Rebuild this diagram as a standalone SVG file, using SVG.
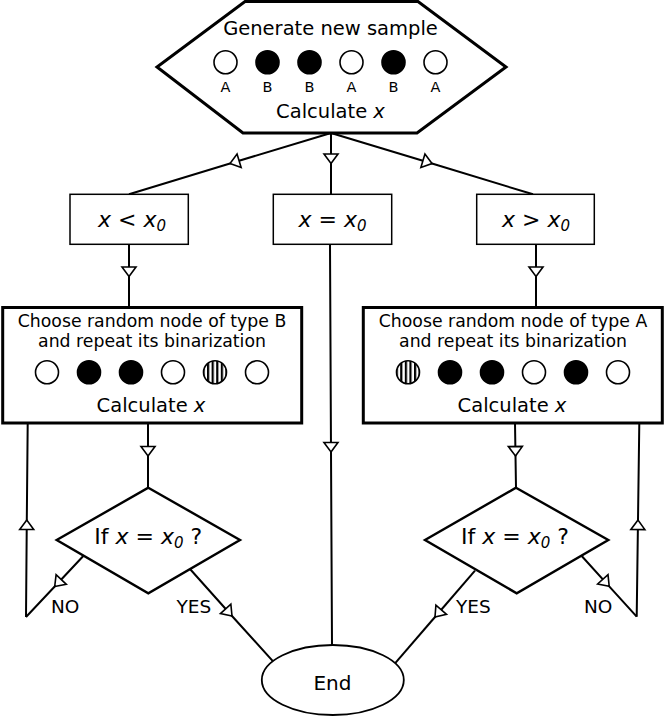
<svg xmlns="http://www.w3.org/2000/svg" width="664" height="718" viewBox="0 0 664 718">
  <style>
    text { font-family: "DejaVu Sans", Verdana, sans-serif; fill: #000; }
    .it { font-style: italic; }
    .conn { fill: none; stroke: #000; stroke-width: 2; marker-mid: url(#arr); }
    .plain { fill: none; stroke: #000; stroke-width: 2; }
    .thick { fill: #fff; stroke: #000; stroke-width: 3; }
    .thin { fill: #fff; stroke: #000; stroke-width: 1.5; }
    .dia { fill: #fff; stroke: #000; stroke-width: 2.4; }
    .w { fill: #fff; stroke: #000; stroke-width: 1.6; }
    .b { fill: #000; stroke: #000; stroke-width: 1.6; }
    .s { fill: url(#stripes); stroke: #000; stroke-width: 1.6; }
  </style>
  <defs>
    <marker id="arr" viewBox="-13 -10 16 20" refX="0" refY="0" markerWidth="16" markerHeight="20" orient="auto" markerUnits="userSpaceOnUse" overflow="visible">
      <path d="M0,0 L-9.5,-7 L-9.5,7 Z" fill="#fff" stroke="#000" stroke-width="1.6" stroke-linejoin="miter"/>
    </marker>
    <pattern id="stripes" patternUnits="userSpaceOnUse" x="0" y="0" width="4.6" height="10">
      <rect x="0" y="0" width="4.6" height="10" fill="#fff"/>
      <rect x="0" y="0" width="2.2" height="10" fill="#000"/>
    </pattern>
  </defs>

  <g id="connectors">
    <path class="conn" d="M331,133 L230,163.5 L129,194.3"/>
    <path class="conn" d="M331,133 L331,163.5 L331,194.3"/>
    <path class="conn" d="M331,133 L432,163.5 L533,194.3"/>
    <path class="conn" d="M129,244.3 L129,276.5 L129,307.5"/>
    <path class="conn" d="M536,244.3 L536,276.5 L536,307.5"/>
    <path class="conn" d="M330,244.3 L331,452 L332,645"/>
    <path class="conn" d="M148,423 L148,456 L148,487.7"/>
    <path class="conn" d="M515,423 L515.5,456 L516,487.7"/>
    <path class="conn" d="M83.3,556 L54.7,586.5 L26,617"/>
    <path class="conn" d="M26,617 L26.8,520 L27.7,423"/>
    <path class="conn" d="M190,569 L232,616 L273.3,661.7"/>
    <path class="conn" d="M581.7,556 L609.2,586.3 L636.7,616.7"/>
    <path class="conn" d="M636.7,616.7 L638,520 L639.3,423"/>
    <path class="conn" d="M475,570.7 L435,617 L395,663.3"/>
  </g>

  <g id="generate">
    <polygon class="thick" points="245,1.5 418,1.5 506,67 417,133 243,133 157,67"/>
    <text x="330.5" y="35" font-size="19.5" text-anchor="middle">Generate new sample</text>
    <circle class="w" cx="225.5" cy="62.3" r="11.5"/>
    <circle class="b" cx="267.5" cy="62.3" r="11.5"/>
    <circle class="b" cx="309.5" cy="62.3" r="11.5"/>
    <circle class="w" cx="351.5" cy="62.3" r="11.5"/>
    <circle class="b" cx="393.5" cy="62.3" r="11.5"/>
    <circle class="w" cx="435.5" cy="62.3" r="11.5"/>
    <g font-size="14.5" text-anchor="middle">
      <text x="225.5" y="92">A</text>
      <text x="267.5" y="92">B</text>
      <text x="309.5" y="92">B</text>
      <text x="351.5" y="92">A</text>
      <text x="393.5" y="92">B</text>
      <text x="435.5" y="92">A</text>
    </g>
    <text x="330.5" y="118" font-size="19.5" text-anchor="middle">Calculate <tspan class="it">x</tspan></text>
  </g>

  <g id="lt">
    <rect class="thin" x="70" y="194.3" width="118.3" height="50"/>
    <text x="132" y="226.5" font-size="22" text-anchor="middle"><tspan class="it">x</tspan> &lt; <tspan class="it">x</tspan><tspan class="it" font-size="15" dy="4">0</tspan></text>
  </g>

  <g id="eq">
    <rect class="thin" x="273.3" y="194.3" width="118.4" height="50"/>
    <text x="332.5" y="226.5" font-size="22" text-anchor="middle"><tspan class="it">x</tspan> = <tspan class="it">x</tspan><tspan class="it" font-size="15" dy="4">0</tspan></text>
  </g>

  <g id="gt">
    <rect class="thin" x="476.7" y="194.3" width="117.6" height="50"/>
    <text x="536" y="226.5" font-size="22" text-anchor="middle"><tspan class="it">x</tspan> &gt; <tspan class="it">x</tspan><tspan class="it" font-size="15" dy="4">0</tspan></text>
  </g>

  <g id="chooseB">
    <rect class="thick" x="2.7" y="307.5" width="299" height="115.5"/>
    <text x="152" y="326.5" font-size="17.3" text-anchor="middle">Choose random node of type B</text>
    <text x="152" y="346.5" font-size="17.3" text-anchor="middle">and repeat its binarization</text>
    <circle class="w" cx="47" cy="372.3" r="11.5"/>
    <circle class="b" cx="89" cy="372.3" r="11.5"/>
    <circle class="b" cx="131" cy="372.3" r="11.5"/>
    <circle class="w" cx="173" cy="372.3" r="11.5"/>
    <circle class="s" cx="215" cy="372.3" r="11.5"/>
    <circle class="w" cx="257" cy="372.3" r="11.5"/>
    <text x="151" y="412" font-size="19.5" text-anchor="middle">Calculate <tspan class="it">x</tspan></text>
  </g>

  <g id="chooseA">
    <rect class="thick" x="363.3" y="307.5" width="299" height="115.5"/>
    <text x="513" y="326.5" font-size="17.3" text-anchor="middle">Choose random node of type A</text>
    <text x="513" y="346.5" font-size="17.3" text-anchor="middle">and repeat its binarization</text>
    <circle class="s" cx="408" cy="372.3" r="11.5"/>
    <circle class="b" cx="450" cy="372.3" r="11.5"/>
    <circle class="b" cx="492" cy="372.3" r="11.5"/>
    <circle class="w" cx="534" cy="372.3" r="11.5"/>
    <circle class="b" cx="576" cy="372.3" r="11.5"/>
    <circle class="w" cx="618" cy="372.3" r="11.5"/>
    <text x="512" y="412" font-size="19.5" text-anchor="middle">Calculate <tspan class="it">x</tspan></text>
  </g>

  <g id="ifLeft">
    <polygon class="dia" points="148.3,487.7 240,540 148.3,593.3 56.7,540"/>
    <text x="148.3" y="544" font-size="22" text-anchor="middle">If <tspan class="it">x</tspan> = <tspan class="it">x</tspan><tspan class="it" font-size="15" dy="4">0</tspan><tspan dy="-4"> ?</tspan></text>
  </g>

  <g id="ifRight">
    <polygon class="dia" points="516,487.7 608.3,540 516.7,593.3 425,540"/>
    <text x="515" y="544" font-size="22" text-anchor="middle">If <tspan class="it">x</tspan> = <tspan class="it">x</tspan><tspan class="it" font-size="15" dy="4">0</tspan><tspan dy="-4"> ?</tspan></text>
  </g>

  <g id="labels" font-size="18.5">
    <text x="51" y="612.5">NO</text>
    <text x="176.5" y="613">YES</text>
    <text x="456" y="613">YES</text>
    <text x="584" y="612.5">NO</text>
  </g>

  <g id="end">
    <ellipse cx="332.8" cy="680" rx="71" ry="35" fill="#fff" stroke="#000" stroke-width="1.8"/>
    <text x="332.5" y="690" font-size="20" text-anchor="middle">End</text>
  </g>
</svg>
